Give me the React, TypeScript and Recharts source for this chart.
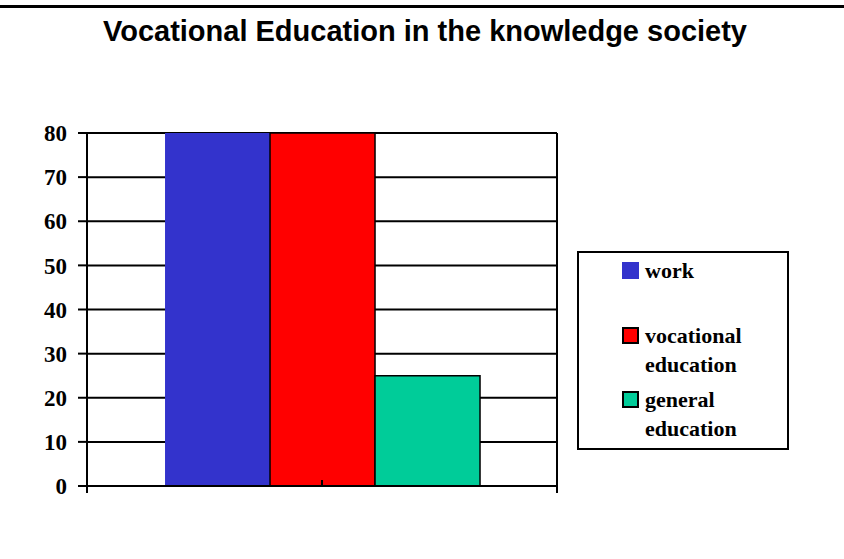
import React from 'react';
import { ComposedChart, Bar, Line, XAxis, YAxis, CartesianGrid, Legend } from 'recharts';

const categories = [''];
const seriesNames = ['work', 'vocational education', 'general education'];
const seriesKeys = ['work', 'vocational', 'general'];
const seriesColors = ['#3333CC', '#FF0000', '#00CC99'];
const seriesStrokes = ['none', '#000000', '#000000'];
const workValues = [80];
const vocationalValues = [80];
const generalValues = [25];
const yTicks = [0, 10, 20, 30, 40, 50, 60, 70, 80];
const edgeDomain = [0, 2];
const edgeTicks = [0, 2];

const data = categories.map((c, i) => ({
  category: c,
  work: workValues[i],
  vocational: vocationalValues[i],
  general: generalValues[i],
}));

const serif = '"Liberation Serif", "Times New Roman", serif';

const NoTick = () => <g />;

const renderLegend = (props: any) => {
  const payload = [...(props.payload || [])]
    .filter((e: any) => seriesNames.indexOf(e.value) >= 0)
    .sort((a: any, b: any) => seriesNames.indexOf(a.value) - seriesNames.indexOf(b.value));
  return (
    <div
      style={{
        boxSizing: 'border-box',
        width: '100%',
        height: '100%',
        border: '2px solid #000',
        paddingTop: 3,
        paddingLeft: 43,
        background: '#fff',
      }}
    >
      {payload.map((entry: any, i: number) => {
        const idx = seriesNames.indexOf(entry.value);
        const stroke = idx >= 0 ? seriesStrokes[idx] : 'none';
        return (
          <div key={i} style={{ display: 'flex', alignItems: 'flex-start', height: 64.5 }}>
            <div
              style={{
                boxSizing: 'border-box',
                width: 17,
                height: 17,
                marginTop: 6,
                background: seriesColors[idx],
                border: stroke === 'none' ? 'none' : '2px solid ' + stroke,
                flex: '0 0 auto',
              }}
            />
            <div
              style={{
                marginLeft: 6,
                width: 130,
                fontFamily: serif,
                fontWeight: 'bold',
                fontSize: 22,
                lineHeight: '29px',
                color: '#000',
              }}
            >
              {entry.value}
            </div>
          </div>
        );
      })}
    </div>
  );
};

export default function App() {
  return (
    <div style={{ position: 'absolute', left: 0, top: 0, width: 844, height: 559, background: '#fff' }}>
      <div style={{ position: 'absolute', left: 0, top: 5, width: 844, height: 3, background: '#000' }} />
      <div
        style={{
          position: 'absolute',
          left: 0,
          top: 17,
          width: 850,
          textAlign: 'center',
          fontFamily: '"Liberation Sans", Arial, sans-serif',
          fontWeight: 'bold',
          fontSize: 29,
          lineHeight: '29px',
          color: '#000',
          whiteSpace: 'nowrap',
        }}
      >
        Vocational Education in the knowledge society
      </div>
      <div style={{ position: 'absolute', left: 0, top: 0 }}>
        <ComposedChart
          width={844}
          height={559}
          data={data}
          margin={{ top: 133, right: 74, bottom: 72, left: 0 }}
          barCategoryGap="16.6%"
          barGap={0}
        >
          <CartesianGrid horizontal={true} vertical={false} stroke="#000" strokeWidth={2} />
          <XAxis
            dataKey="category"
            height={1}
            mirror={true}
            tick={NoTick}
            tickSize={6}
            axisLine={{ stroke: '#000', strokeWidth: 2 }}
            tickLine={{ stroke: '#000', strokeWidth: 2 }}
          />
          <XAxis
            xAxisId="edges"
            type="number"
            dataKey={() => 1}
            domain={edgeDomain}
            ticks={edgeTicks}
            interval={0}
            height={1}
            tick={NoTick}
            tickSize={7}
            axisLine={false}
            tickLine={{ stroke: '#000', strokeWidth: 2 }}
          />
          <YAxis
            width={87}
            domain={[0, 80]}
            ticks={yTicks}
            interval={0}
            tickSize={9}
            tickMargin={11}
            axisLine={{ stroke: '#000', strokeWidth: 2 }}
            tickLine={{ stroke: '#000', strokeWidth: 2 }}
            tick={{ fill: '#000', fontFamily: serif, fontWeight: 'bold', fontSize: 23 }}
          />
          <YAxis
            yAxisId="right"
            orientation="right"
            width={1}
            domain={[0, 80]}
            tick={NoTick}
            tickLine={false}
            axisLine={{ stroke: '#000', strokeWidth: 2 }}
          />
          <Legend
            layout="horizontal"
            verticalAlign="middle"
            align="right"
            content={renderLegend}
            wrapperStyle={{ position: 'absolute', left: 577, top: 251, width: 212, height: 199 }}
          />
          {seriesKeys.map((k, i) => (
            <Bar
              key={k}
              dataKey={k}
              name={seriesNames[i]}
              fill={seriesColors[i]}
              stroke={seriesStrokes[i]}
              strokeWidth={1.5}
              isAnimationActive={false}
            />
          ))}
          <Line
            xAxisId="edges"
            yAxisId="right"
            dataKey="general"
            hide={true}
            stroke="none"
            dot={false}
            activeDot={false}
            legendType="none"
            isAnimationActive={false}
          />
        </ComposedChart>
      </div>
    </div>
  );
}
